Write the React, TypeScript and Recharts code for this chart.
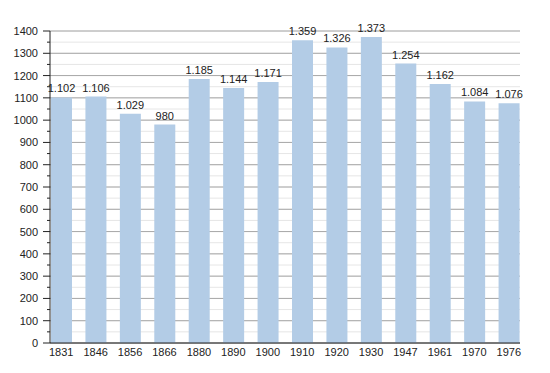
import React from "react";
import { BarChart, Bar, XAxis, YAxis, CartesianGrid, LabelList } from "recharts";

const years = ["1831", "1846", "1856", "1866", "1880", "1890", "1900", "1910", "1920", "1930", "1947", "1961", "1970", "1976"];
const population = [1102, 1106, 1029, 980, 1185, 1144, 1171, 1359, 1326, 1373, 1254, 1162, 1084, 1076];
const yTicks = [0, 50, 100, 150, 200, 250, 300, 350, 400, 450, 500, 550, 600, 650, 700, 750, 800, 850, 900, 950, 1000, 1050, 1100, 1150, 1200, 1250, 1300, 1350, 1400];
const majorTicks = [0, 100, 200, 300, 400, 500, 600, 700, 800, 900, 1000, 1100, 1200, 1300, 1400];

const data = years.map((year, i) => ({ year, value: population[i] }));

const FONT = "'Liberation Sans', Arial, sans-serif";

function fmt(v: number) {
  if (v < 1000) return String(v);
  return Math.floor(v / 1000) + "." + String(v % 1000).padStart(3, "0");
}

function YTick(props: any) {
  const { x, y, payload } = props;
  const major = payload.value % 100 === 0;
  return (
    <g>
      <line x1={major ? x - 7 : x - 3} x2={x} y1={y} y2={y} stroke="#222" />
      {major && (
        <text x={x - 12} y={y} dy={4} textAnchor="end" fontSize={11} fontFamily={FONT} fill="#222">
          {payload.value}
        </text>
      )}
    </g>
  );
}

export default function App() {
  return (
    <div style={{ position: "absolute", left: 0, top: 0, background: "#fff" }}>
      <BarChart width={550} height={373} data={data} margin={{ top: 31, right: 30, bottom: 0, left: 0 }}>
        <CartesianGrid vertical={false} stroke="#e6e6e6" horizontalValues={yTicks} />
        <CartesianGrid vertical={false} stroke="#a8a8a8" horizontalValues={majorTicks} />
        <XAxis
          dataKey="year"
          height={30}
          padding={{ left: -6, right: -6 }}
          tickLine={false}
          tickSize={0}
          tickMargin={5}
          axisLine={{ stroke: "#222" }}
          tick={{ fontSize: 11, fontFamily: FONT, fill: "#222" }}
          interval={0}
        />
        <YAxis
          width={50}
          domain={[0, 1400]}
          ticks={yTicks}
          interval={0}
          tickLine={false}
          tickSize={0}
          tickMargin={0}
          axisLine={{ stroke: "#222" }}
          tick={<YTick />}
        />
        <Bar dataKey="value" fill="#b3cce6" barSize={21} isAnimationActive={false}>
          <LabelList dataKey="value" position="top" offset={5} formatter={(v: any) => fmt(Number(v))} style={{ fontSize: 11, fontFamily: FONT, fill: "#222" }} />
        </Bar>
      </BarChart>
    </div>
  );
}
